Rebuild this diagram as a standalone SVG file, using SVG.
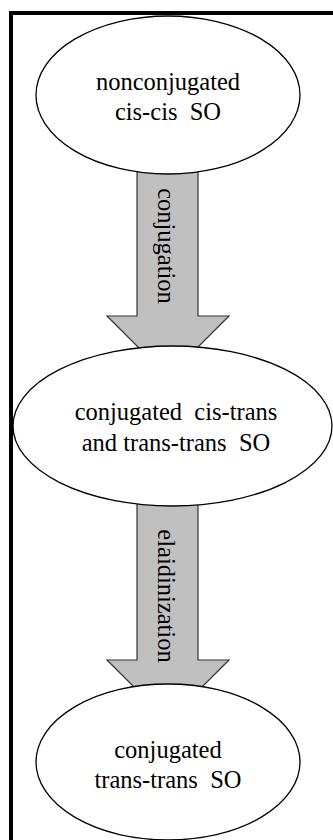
<svg xmlns="http://www.w3.org/2000/svg" width="333" height="840" viewBox="0 0 333 840">
  <style>
    .node { fill: #ffffff; stroke: #000000; stroke-width: 1.3; }
    .arrow { fill: #c0c0c0; stroke: #333333; stroke-width: 1.2; stroke-linejoin: miter; }
  </style>
  <rect x="0" y="0" width="333" height="840" fill="#ffffff"/>
  <!-- frame: only left and top edges fall inside the view -->
  <path d="M11,845 V13 H340" fill="none" stroke="#000000" stroke-width="4"/>

  <g font-family="Liberation Serif, Times New Roman, serif" font-size="24.5" fill="#000000" text-anchor="middle">
    <g id="connectors">
      <g id="arrow-conjugation">
        <polygon class="arrow" points="137,160 198,160 198,316 229,316 168,377 107,316 137,316"/>
        <text transform="translate(158,246) rotate(90)">conjugation</text>
      </g>
      <g id="arrow-elaidinization">
        <polygon class="arrow" points="137,490 198,490 198,660 229,660 168,721 107,660 137,660"/>
        <text transform="translate(158,596) rotate(90)">elaidinization</text>
      </g>
    </g>

    <g id="node-nonconjugated">
      <ellipse class="node" cx="168" cy="95" rx="132" ry="79"/>
      <text x="168" y="90">nonconjugated</text>
      <text x="168" y="120" xml:space="preserve">cis-cis  SO</text>
    </g>

    <g id="node-conjugated-mixed">
      <ellipse class="node" cx="172.5" cy="426" rx="159.5" ry="80"/>
      <text x="176" y="420" xml:space="preserve">conjugated  cis-trans</text>
      <text x="176" y="451" xml:space="preserve">and trans-trans  SO</text>
    </g>

    <g id="node-trans-trans">
      <ellipse class="node" cx="168" cy="762" rx="132" ry="78"/>
      <text x="168" y="758">conjugated</text>
      <text x="168" y="788" xml:space="preserve">trans-trans  SO</text>
    </g>
  </g>
</svg>
